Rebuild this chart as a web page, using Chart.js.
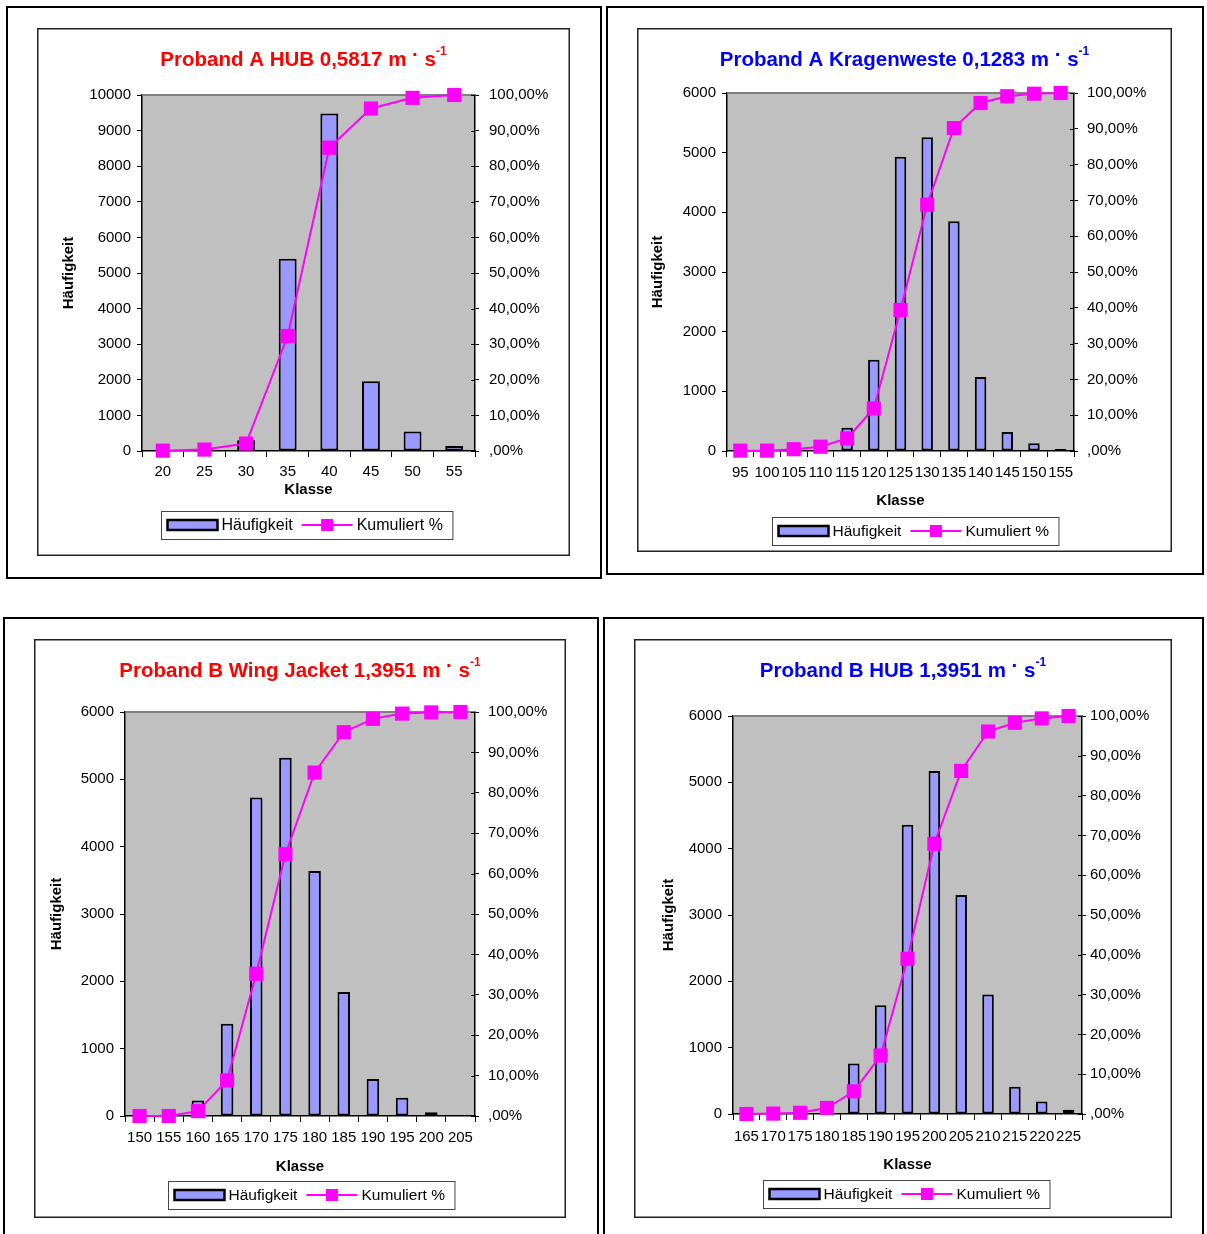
<!DOCTYPE html>
<html>
<head>
<meta charset="utf-8">
<script src="https://cdn.jsdelivr.net/npm/chart.js"></script>
<style>
  html, body { margin: 0; padding: 0; background: #fff; overflow: hidden; }
  body { position: relative; width: 1207px; height: 1234px; }
  .frame { position: absolute; box-sizing: border-box; border: 2px solid #000; }
  .box { position: absolute; }
  .box canvas { display: block; }
</style>
</head>
<body>
<div class="frame" style="left:6px;top:6px;width:596px;height:573px"></div>
<div class="frame" style="left:606px;top:6px;width:598px;height:569px"></div>
<div class="frame" style="left:3px;top:617px;width:596px;height:640px"></div>
<div class="frame" style="left:603px;top:617px;width:601px;height:640px"></div>

<div class="box" style="left:37px;top:28px;width:533px;height:528px"><canvas id="chartA_HUB"></canvas></div>
<div class="box" style="left:637px;top:28px;width:535px;height:524px"><canvas id="chartA_KW"></canvas></div>
<div class="box" style="left:34px;top:639px;width:532px;height:579px"><canvas id="chartB_WJ"></canvas></div>
<div class="box" style="left:634px;top:639px;width:538px;height:579px"><canvas id="chartB_HUB"></canvas></div>

<script>
// ---- data ----
const klassenA_HUB = ['20', '25', '30', '35', '40', '45', '50', '55'];
const haeufigA_HUB = [15, 50, 300, 5400, 9480, 1960, 550, 140];
const kumA_HUB = [0.1, 0.4, 2.1, 32.3, 85.2, 96.2, 99.2, 100];

const klassenA_KW = ['95', '100', '105', '110', '115', '120', '125', '130', '135', '140', '145', '150', '155'];
const haeufigA_KW = [5, 10, 70, 130, 390, 1530, 4930, 5260, 3850, 1240, 320, 130, 35];
const kumA_KW = [0.1, 0.1, 0.5, 1.2, 3.5, 11.9, 39.4, 68.8, 90.2, 97.2, 99.1, 99.8, 100];

const klassenB_WJ = ['150', '155', '160', '165', '170', '175', '180', '185', '190', '195', '200', '205'];
const haeufigB_WJ = [0, 0, 230, 1370, 4730, 5320, 3640, 1840, 550, 270, 55, 0];
const kumB_WJ = [0, 0, 1.2, 8.8, 35.2, 64.8, 85.0, 95.0, 98.3, 99.6, 99.9, 100];

const klassenB_HUB = ['165', '170', '175', '180', '185', '190', '195', '200', '205', '210', '215', '220', '225'];
const haeufigB_HUB = [0, 5, 40, 200, 760, 1640, 4360, 5170, 3300, 1800, 410, 190, 65];
const kumB_HUB = [0, 0.1, 0.3, 1.5, 5.7, 14.7, 39.0, 67.9, 86.2, 96.1, 98.3, 99.4, 100];

const FONT = "'Liberation Sans', Arial, Helvetica, sans-serif";
Chart.defaults.font.family = FONT;
Chart.defaults.color = '#000';
Chart.defaults.animation = false;

const fmtPct = v => {
  const s = v.toFixed(2).replace('.', ',');
  return (v === 0 ? s.slice(1) : s) + '%';
};

// grey plot area, frame, title with superscript, excel style legend
const excelLook = {
  id: 'excelLook',
  beforeDraw(chart) {
    const { ctx, chartArea: a } = chart;
    ctx.save();
    ctx.fillStyle = '#fff';
    ctx.fillRect(0, 0, chart.width, chart.height);
    ctx.fillStyle = '#C0C0C0';
    ctx.fillRect(a.left, a.top, a.right - a.left, a.bottom - a.top);
    ctx.restore();
  },
  beforeDatasetsDraw(chart) {
    const { ctx, chartArea: a } = chart;
    ctx.save();
    ctx.strokeStyle = '#808080';
    ctx.lineWidth = 2;
    ctx.beginPath();
    ctx.moveTo(a.left, a.top);
    ctx.lineTo(a.right, a.top);
    ctx.stroke();
    // right axis ticks cross the axis in the original
    const s = chart.scales.y1;
    ctx.strokeStyle = '#000';
    ctx.lineWidth = 1;
    ctx.beginPath();
    s.ticks.forEach(t => {
      const y = Math.round(s.getPixelForValue(t.value)) + 0.5;
      ctx.moveTo(a.right - 4, y);
      ctx.lineTo(a.right, y);
    });
    ctx.stroke();
    ctx.restore();
  },
  afterDraw(chart, args, o) {
    const { ctx } = chart;
    const W = chart.width, H = chart.height;
    ctx.save();
    // inner chart box
    ctx.strokeStyle = '#222';
    ctx.lineWidth = 1.5;
    ctx.strokeRect(0.75, 0.75, W - 1.5, H - 1.5);

    // title: "text m · s^-1"
    const bigFont = `bold 20.5px ${FONT}`, supFont = `bold 12px ${FONT}`;
    const part1 = o.titleText + ' ', dot = '·', part2 = ' s', sup = '-1';
    ctx.font = bigFont;
    const w1 = ctx.measureText(part1).width, wd = ctx.measureText(dot).width, w2 = ctx.measureText(part2).width;
    ctx.font = supFont;
    const ws = ctx.measureText(sup).width;
    let x = W / 2 - (w1 + wd + w2 + ws) / 2;
    const y = o.titleY;
    ctx.fillStyle = o.titleColor;
    ctx.textBaseline = 'middle';
    ctx.textAlign = 'left';
    ctx.font = bigFont;
    ctx.fillText(part1, x, y); x += w1;
    ctx.fillText(dot, x, y - 5); x += wd;
    ctx.fillText(part2, x, y); x += w2;
    ctx.font = supFont;
    ctx.fillText(sup, x, y - 8);

    // legend
    ctx.font = `${o.legendFont}px ${FONT}`;
    const t1 = chart.data.datasets[0].label, t2 = chart.data.datasets[1].label;
    const lt1 = ctx.measureText(t1).width, lt2 = ctx.measureText(t2).width;
    const bw = 6 + 50 + 4 + lt1 + 9 + 51 + 4 + lt2 + 10;
    const bh = 28;
    const bx = Math.round(o.legendX - bw / 2) + 0.5, by = Math.round(o.legendY - bh / 2) + 0.5;
    ctx.fillStyle = '#fff';
    ctx.fillRect(bx, by, bw, bh);
    ctx.strokeStyle = '#444';
    ctx.lineWidth = 1;
    ctx.strokeRect(bx, by, bw, bh);
    const cy = o.legendY;
    let lx = bx + 6;
    ctx.fillStyle = '#9999FF';
    ctx.fillRect(lx, cy - 5, 50, 10);
    ctx.strokeStyle = '#000';
    ctx.lineWidth = 2.5;
    ctx.strokeRect(lx, cy - 5, 50, 10);
    lx += 54;
    ctx.fillStyle = '#000';
    ctx.textBaseline = 'middle';
    ctx.fillText(t1, lx, cy + 1);
    lx += lt1 + 9;
    ctx.strokeStyle = '#FF00FF';
    ctx.lineWidth = 2;
    ctx.beginPath();
    ctx.moveTo(lx, cy);
    ctx.lineTo(lx + 51, cy);
    ctx.stroke();
    ctx.fillStyle = '#FF00FF';
    ctx.fillRect(lx + 25.5 - 6, cy - 6, 12, 12);
    lx += 55;
    ctx.fillStyle = '#000';
    ctx.fillText(t2, lx, cy + 1);
    ctx.restore();
  }
};

function makeChart(id, labels, counts, cum, cfg) {
  new Chart(document.getElementById(id), {
    type: 'bar',
    plugins: [excelLook],
    data: {
      labels: labels,
      datasets: [
        {
          label: 'Häufigkeit', data: counts, yAxisID: 'y', order: 1,
          backgroundColor: '#9999FF', borderColor: '#000', borderWidth: 2, borderSkipped: false,
          barPercentage: 0.43, categoryPercentage: 1.0
        },
        {
          type: 'line', label: 'Kumuliert %', data: cum, yAxisID: 'y1', order: 0,
          borderColor: '#FF00FF', borderWidth: 2, tension: 0, clip: false,
          pointStyle: 'rect', pointRadius: 10, pointBackgroundColor: '#FF00FF', pointBorderWidth: 0
        }
      ]
    },
    options: {
      responsive: true,
      maintainAspectRatio: false,
      events: [],
      layout: { padding: { top: cfg.top, left: 0, right: 0, bottom: 0 } },
      plugins: {
        legend: { display: false },
        tooltip: { enabled: false },
        title: { display: false },
        excelLook: {
          titleText: cfg.title, titleColor: cfg.color, titleY: 32,
          legendX: cfg.legendX, legendY: cfg.legendY, legendFont: cfg.legendFont
        }
      },
      scales: {
        x: {
          afterFit: s => { s.height = cfg.bottom; },
          grid: { display: true, drawOnChartArea: false, drawTicks: true, tickLength: 6, color: '#000', offset: true },
          border: { display: true, color: '#000', width: 1.5 },
          ticks: { autoSkip: false, maxRotation: 0, minRotation: 0, padding: cfg.xPad, font: { size: 15 } },
          title: { display: true, text: 'Klasse', font: { size: 15, weight: 'bold' }, padding: { top: 0, bottom: cfg.klassePad } }
        },
        y: {
          position: 'left', min: 0, max: cfg.yMax,
          afterFit: s => { s.width = cfg.left; },
          grid: { display: true, drawOnChartArea: false, drawTicks: true, tickLength: 5, color: '#000' },
          border: { display: true, color: '#000', width: 1.5 },
          ticks: { stepSize: cfg.yStep, padding: 6, font: { size: 15 }, callback: v => String(v) },
          title: { display: true, text: 'Häufigkeit', font: { size: 15, weight: 'bold' }, padding: { top: cfg.yTitlePad, bottom: 0 } }
        },
        y1: {
          position: 'right', min: 0, max: 100,
          afterFit: s => { s.width = cfg.right; },
          grid: { display: true, drawOnChartArea: false, drawTicks: true, tickLength: 4, color: '#000' },
          border: { display: true, color: '#000', width: 1.5 },
          ticks: { stepSize: 10, padding: cfg.rPad, font: { size: 15 }, callback: v => fmtPct(v) }
        }
      }
    }
  });
}

makeChart('chartA_HUB', klassenA_HUB, haeufigA_HUB, kumA_HUB, {
  title: 'Proband A HUB 0,5817 m', color: '#FF0000', yMax: 10000, yStep: 1000,
  top: 67, left: 105, right: 95, bottom: 105, xPad: 6, klassePad: 57, yTitlePad: 23, rPad: 10,
  legendX: 270, legendY: 497, legendFont: 16
});
makeChart('chartA_KW', klassenA_KW, haeufigA_KW, kumA_KW, {
  title: 'Proband A Kragenweste 0,1283 m', color: '#0000FF', yMax: 6000, yStep: 1000,
  top: 65, left: 90, right: 98, bottom: 101, xPad: 7, klassePad: 42, yTitlePad: 12, rPad: 9,
  legendX: 278, legendY: 503, legendFont: 15.5
});
makeChart('chartB_WJ', klassenB_WJ, haeufigB_WJ, kumB_WJ, {
  title: 'Proband B Wing Jacket 1,3951 m', color: '#FF0000', yMax: 6000, yStep: 1000,
  top: 73, left: 91, right: 91, bottom: 102, xPad: 7, klassePad: 42, yTitlePad: 14, rPad: 9,
  legendX: 277, legendY: 556, legendFont: 15.5
});
makeChart('chartB_HUB', klassenB_HUB, haeufigB_HUB, kumB_HUB, {
  title: 'Proband B HUB 1,3951 m', color: '#0000FF', yMax: 6000, yStep: 1000,
  top: 77, left: 99, right: 90, bottom: 104, xPad: 8, klassePad: 44, yTitlePad: 26, rPad: 4,
  legendX: 272, legendY: 555, legendFont: 15.5
});
</script>
</body>
</html>
